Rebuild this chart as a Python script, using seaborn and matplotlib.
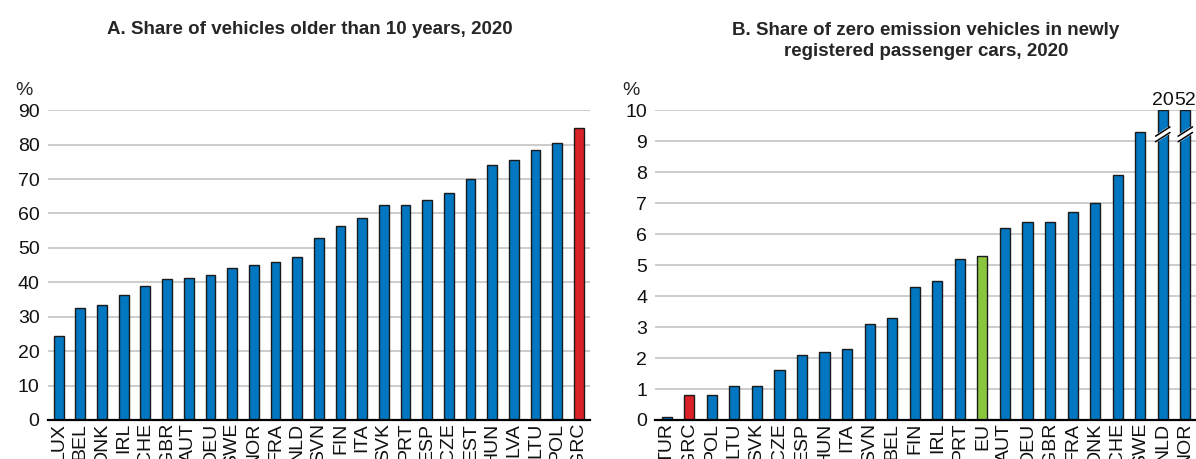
import numpy as np
import pandas as pd
import matplotlib
matplotlib.use("Agg")
import matplotlib.pyplot as plt
import seaborn as sns

# Panel A: share of vehicles older than 10 years, 2020
countries_a = ["LUX", "BEL", "DNK", "IRL", "CHE", "GBR", "AUT", "DEU", "SWE",
               "NOR", "FRA", "NLD", "SVN", "FIN", "ITA", "SVK", "PRT", "ESP",
               "CZE", "EST", "HUN", "LVA", "LTU", "POL", "GRC"]
values_a = [24.3, 32.6, 33.5, 36.2, 38.8, 40.9, 41.1, 42.2, 44.2,
            44.9, 45.9, 47.3, 52.8, 56.3, 58.6, 62.5, 62.5, 63.8,
            65.8, 70.1, 74.0, 75.4, 78.3, 80.4, 84.9]

# Panel B: share of zero emission vehicles in new registrations, 2020
countries_b = ["TUR", "GRC", "POL", "LTU", "SVK", "CZE", "ESP", "HUN", "ITA",
               "SVN", "BEL", "FIN", "IRL", "PRT", "EU", "AUT", "DEU", "GBR",
               "FRA", "DNK", "CHE", "SWE", "NLD", "NOR"]
values_b = [0.1, 0.8, 0.8, 1.1, 1.1, 1.6, 2.1, 2.2, 2.3,
            3.1, 3.3, 4.3, 4.5, 5.2, 5.3, 6.2, 6.4, 6.4,
            6.7, 7.0, 7.9, 9.3, 20, 52]

# colours
BLUE = "#0077C0"
RED = "#DA2128"
GREEN = "#8CC63F"
B_CAP = 10  # axis cap for panel B, larger values get a break mark

sns.set_theme(style="white")
plt.rcParams["font.family"] = ["Liberation Sans Narrow", "Liberation Sans", "DejaVu Sans"]


def colours_for(countries):
    cols = []
    for c in countries:
        if c == "GRC":
            cols.append(RED)
        elif c == "EU":
            cols.append(GREEN)
        else:
            cols.append(BLUE)
    return cols


def style_axis(ax, n, ymax, step):
    ax.set_xlim(-0.5, n - 0.5)
    ax.set_ylim(0, ymax)
    ax.set_yticks(np.arange(0, ymax + step / 2, step))
    ax.grid(axis="y", color="#c8c8c8", linewidth=1.3)
    ax.set_axisbelow(True)
    for s in ["top", "right", "left"]:
        ax.spines[s].set_visible(False)
    ax.spines["bottom"].set_color("black")
    ax.spines["bottom"].set_linewidth(1.6)
    ax.tick_params(axis="y", length=0, labelsize=14, pad=6, labelcolor="#111111")
    ax.tick_params(axis="x", which="major", length=0, labelsize=14,
                   labelrotation=90, pad=2, labelcolor="#111111")
    ax.set_xticks(np.arange(n - 1) + 0.5, minor=True)
    ax.tick_params(axis="x", which="minor", length=5, width=1.2,
                   direction="in", color="black")
    ax.set_xlabel("")
    ax.set_ylabel("")
    ax.text(-0.045, 1.035, "%", transform=ax.transAxes, fontsize=14,
            ha="center", va="bottom")


fig = plt.figure(figsize=(11.96, 4.59), dpi=100)

# ---------------- Panel A ----------------
ax1 = fig.add_axes([0.040, 0.085, 0.453, 0.675])
df_a = pd.DataFrame({"country": countries_a, "value": values_a})
sns.barplot(data=df_a, x="country", y="value", hue="country",
            palette=colours_for(countries_a), legend=False, width=0.45,
            saturation=1, edgecolor="#1a1a1a", linewidth=1.0, ax=ax1)
style_axis(ax1, len(countries_a), 90, 10)
fig.text(0.259, 0.935, "A. Share of vehicles older than 10 years, 2020",
         ha="center", va="center", fontsize=13.5, fontweight="bold",
         family=["Liberation Sans", "DejaVu Sans"])

# ---------------- Panel B ----------------
ax2 = fig.add_axes([0.548, 0.085, 0.4525, 0.675])
df_b = pd.DataFrame({"country": countries_b,
                     "value": np.minimum(values_b, B_CAP)})
sns.barplot(data=df_b, x="country", y="value", hue="country",
            palette=colours_for(countries_b), legend=False, width=0.45,
            saturation=1, edgecolor="#1a1a1a", linewidth=1.0, ax=ax2)
style_axis(ax2, len(countries_b), B_CAP, 1)
fig.text(0.774, 0.91, "B. Share of zero emission vehicles in newly\nregistered passenger cars, 2020",
         ha="center", va="center", fontsize=13.5, fontweight="bold",
         linespacing=1.3, family=["Liberation Sans", "DejaVu Sans"])

# break marks and value labels for bars above the cap
for i, v in enumerate(values_b):
    if v > B_CAP:
        xs = np.array([i - 0.32, i + 0.32])
        ys = np.array([9.05, 9.35])
        ax2.plot(xs, ys + 0.02, color="white", linewidth=5, solid_capstyle="butt",
                 zorder=5, clip_on=False)
        ax2.plot(xs, ys - 0.07, color="black", linewidth=1.1, zorder=6, clip_on=False)
        ax2.plot(xs, ys + 0.11, color="black", linewidth=1.1, zorder=6, clip_on=False)
        ax2.text(i, B_CAP + 0.05, f"{v:g}", ha="center", va="bottom",
                 fontsize=14, color="#111111")

fig.savefig("out.png", dpi=100)
